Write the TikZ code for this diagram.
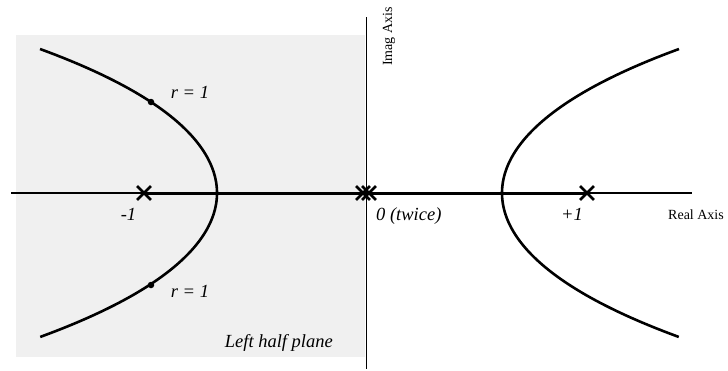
\documentclass[tikz,border=0pt]{standalone}
\usepackage{fontspec}
\setmainfont{Liberation Serif}
\usetikzlibrary{shapes.misc}
\definecolor{lhp}{RGB}{240,240,240}
\begin{document}
\begin{tikzpicture}[x=1pt,y=-1pt,
  pole/.style={cross out,draw,line width=2.8pt,minimum size=11pt,inner sep=0pt},
  lbl/.style={font=\fontsize{18.5}{20}\selectfont\itshape,anchor=base,inner sep=0pt},
  axlbl/.style={font=\fontsize{14}{16}\selectfont,inner sep=0pt},
  branch/.style={line width=2.6pt},
  axis/.style={line width=1.2pt},
  dot/.style={circle,fill,inner sep=0pt,minimum size=6.5pt}]
\useasboundingbox (0,0) rectangle (728,370);
\fill[lhp] (16,35) rectangle (365,357);
\coordinate (xl) at (11,193);
\coordinate (xr) at (692,193);
\coordinate (yt) at (366.5,17);
\coordinate (yb) at (366.5,369);
\draw[axis] (xl) -- (xr);
\draw[axis] (yt) -- (yb);
\node[pole] (pm) at (144,193) {};
\node[pole] (p0a) at (363,193) {};
\node[pole] (p0b) at (369,193) {};
\node[pole] (pp) at (587,193) {};
\draw[line width=3pt] (pm.center) -- (pp.center);
\draw[branch] plot[domain=-1.44:1.44,samples=61,variable=\s,smooth]
  ({217-75.95*\s*\s-4.53*\s*\s*\s*\s},{193+100*\s});
\draw[branch] plot[domain=-1.44:1.44,samples=61,variable=\s,smooth]
  ({502+75.95*\s*\s+4.53*\s*\s*\s*\s},{193+100*\s});
\node[dot] (d1) at (151,102) {};
\node[dot] (d2) at (151,285) {};
\node[lbl] (r1) at (190,98) {r = 1};
\node[lbl] (r2) at (190,297) {r = 1};
\node[lbl] (lm) at (128.5,220) {-1};
\node[lbl,anchor=base west] (l0) at (376,220) {0 (twice)};
\node[lbl] (lp) at (572,220) {+1};
\node[lbl,anchor=base east] (lhpl) at (333,347) {Left half plane};
\node[axlbl,anchor=base west] (rax) at (668,219) {Real Axis};
\node[axlbl,rotate=90,anchor=base west] (iax) at (392,66) {Imag Axis};
\end{tikzpicture}
\end{document}
